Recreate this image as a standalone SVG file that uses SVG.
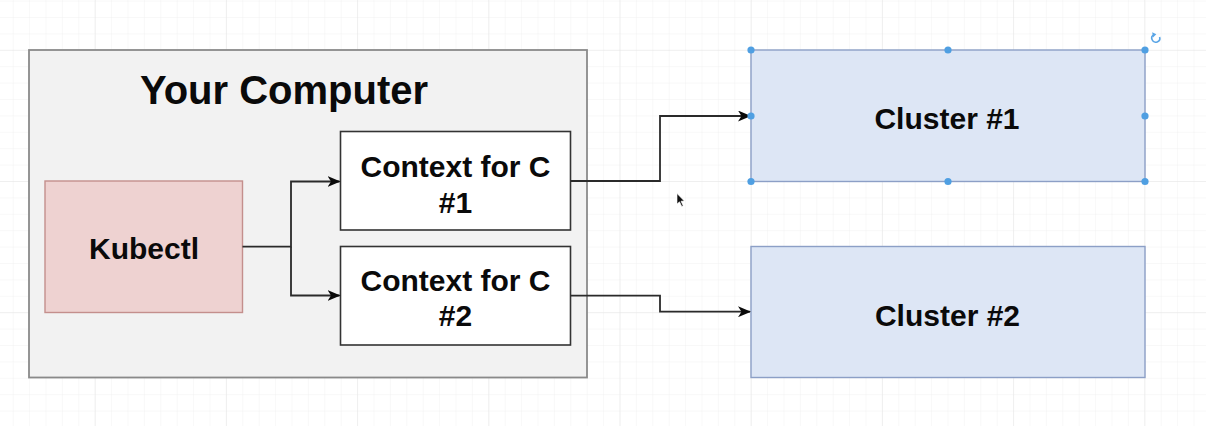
<svg xmlns="http://www.w3.org/2000/svg" width="1206" height="426" viewBox="0 0 1206 426">
  <style>
    .t { font-family: "Liberation Sans", Arial, Helvetica, sans-serif; font-weight: bold; fill: #0a0a0a; text-anchor: middle; }
    .n { font-size: 30px; }
    .title { font-size: 40px; }
    .edge { fill: none; stroke: #2a2a2a; stroke-width: 1.8; }
    .handle { fill: #4f9fe2; }
  </style>
  <defs>
    <pattern id="minor" patternUnits="userSpaceOnUse" x="12.7" y="0.6" width="16.4" height="16.4">
      <path d="M0 0 H16.4 M0 0 V16.4" fill="none" stroke="#f1f1f1" stroke-width="1"/>
    </pattern>
    <pattern id="major" patternUnits="userSpaceOnUse" x="94.7" y="49.8" width="131.2" height="131.2">
      <path d="M0 0 H131.2 M0 0 V131.2" fill="none" stroke="#e6e6e6" stroke-width="1"/>
    </pattern>
    <marker id="arrow" viewBox="0 0 13 11" refX="12" refY="5.5" markerWidth="13" markerHeight="11" markerUnits="userSpaceOnUse" orient="auto">
      <path d="M0 0 L13 5.5 L0 11 L3.5 5.5 Z" fill="#0a0a0a"/>
    </marker>
  </defs>

  <rect width="1206" height="426" fill="#ffffff"/>
  <rect width="1206" height="426" fill="url(#minor)"/>
  <rect width="1206" height="426" fill="url(#major)"/>

  <g id="your-computer">
    <rect x="29" y="50" width="558" height="327.5" fill="#f2f2f2" stroke="#8a8a8a" stroke-width="1.8"/>
    <text class="t title" x="284" y="104">Your Computer</text>
  </g>

  <g id="kubectl">
    <rect x="45" y="181" width="197.5" height="131.5" fill="#eed2d1" stroke="#c48f8d" stroke-width="1.4"/>
    <text class="t n" x="144" y="259">Kubectl</text>
  </g>

  <g id="context-1">
    <rect x="340.5" y="131.5" width="230" height="98.5" fill="#ffffff" stroke="#333" stroke-width="1.6"/>
    <text class="t n" x="455.5" y="177">Context for C</text>
    <text class="t n" x="455.5" y="212.5">#1</text>
  </g>

  <g id="context-2">
    <rect x="340.5" y="246.5" width="230" height="98.5" fill="#ffffff" stroke="#333" stroke-width="1.6"/>
    <text class="t n" x="455.5" y="290.5">Context for C</text>
    <text class="t n" x="455.5" y="326">#2</text>
  </g>

  <g id="cluster-1">
    <rect x="751" y="50" width="394" height="131.5" fill="#dde6f5" stroke="#8c9fc6" stroke-width="1.4"/>
    <text class="t n" x="947" y="128.5">Cluster #1</text>
  </g>

  <g id="cluster-2">
    <rect x="751" y="246.5" width="394" height="131" fill="#dde6f5" stroke="#8c9fc6" stroke-width="1.4"/>
    <text class="t n" x="947.5" y="326">Cluster #2</text>
  </g>

  <g id="connectors">
    <path class="edge" d="M242.5 246.7 H291 V181.5 H339.5" marker-end="url(#arrow)"/>
    <path class="edge" d="M291 246.7 V295.5 H339.5" marker-end="url(#arrow)"/>
    <path class="edge" d="M570.5 181 H660 V116 H750" marker-end="url(#arrow)"/>
    <path class="edge" d="M570.5 295.7 H660 V311.7 H750" marker-end="url(#arrow)"/>
  </g>

  <g id="selection">
    <circle class="handle" cx="751" cy="50" r="3.6"/>
    <circle class="handle" cx="948" cy="50" r="3.6"/>
    <circle class="handle" cx="1145" cy="50" r="3.6"/>
    <circle class="handle" cx="751" cy="116" r="3.6"/>
    <circle class="handle" cx="1145" cy="116" r="3.6"/>
    <circle class="handle" cx="751" cy="181.5" r="3.6"/>
    <circle class="handle" cx="948" cy="181.5" r="3.6"/>
    <circle class="handle" cx="1145" cy="181.5" r="3.6"/>
    <path d="M1159.6 37 A4 4 0 1 1 1154 34.6" fill="none" stroke="#5aa5e6" stroke-width="1.6"/>
    <path d="M1152.2 32.2 L1156.3 34.3 L1153 37.6 Z" fill="#5aa5e6"/>
  </g>

  <g id="cursor">
    <path d="M677 193.5 L677 204 L679.5 201.8 L681.8 206.5 L683.2 205.8 L681 201.2 L684.3 201 Z" fill="#111" stroke="#fff" stroke-width="0.6"/>
  </g>
</svg>
